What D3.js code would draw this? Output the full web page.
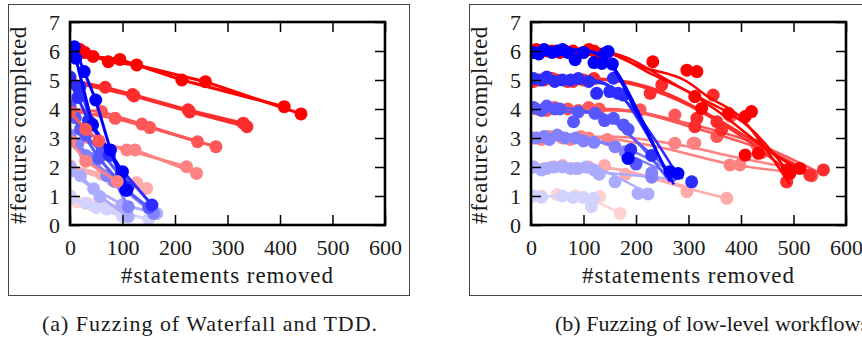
<!DOCTYPE html>
<html>
<head>
<meta charset="utf-8">
<script src="https://cdn.jsdelivr.net/npm/d3@7"></script>
<style>
  body { margin: 0; background: #fff; }
</style>
</head>
<body>
<div id="chart"></div>
<script>
const FONT = '"Liberation Serif"'

// ticks
const xTicks = [0, 100, 200, 300, 400, 500, 600]
const yTicks = [0, 1, 2, 3, 4, 5, 6, 7]

// colour per starting #features (bwr-like)
const redShades = { 6: '#ff0000', 5: '#ff2c2c', 4: '#ff5757', 3: '#ff8282', 2: '#ffabab', 1: '#ffd2d2' }
const blueShades = { 6: '#0000ff', 5: '#2c2cff', 4: '#5757ff', 3: '#8282ff', 2: '#ababff', 1: '#d2d2ff' }

// panel (a): Waterfall runs (red), [statements removed, features completed]
const waterfallRuns = [
  { level: 1, pts: [[0, 1.0], [13, 0.8], [57, 0.8]] },
  { level: 1, pts: [[0, 0.9], [40, 0.7], [90, 0.55]] },
  { level: 2, pts: [[0, 2.05], [60, 1.75], [127, 1.46]] },
  { level: 2, pts: [[0, 1.95], [80, 1.55], [146, 1.26]] },
  { level: 3, pts: [[0, 3.0], [108, 2.59], [222, 2.01]] },
  { level: 3, pts: [[0, 2.95], [124, 2.59], [241, 1.78]] },
  { level: 4, pts: [[0, 4.0], [60, 3.91], [137, 3.48], [243, 2.87]] },
  { level: 4, pts: [[0, 3.95], [86, 3.68], [152, 3.36], [278, 2.7]] },
  { level: 5, pts: [[0, 5.0], [67, 4.75], [119, 4.5], [225, 3.97], [330, 3.51]] },
  { level: 5, pts: [[0, 4.95], [122, 4.45], [228, 3.9], [337, 3.39]] },
  { level: 6, pts: [[0, 6.05], [19, 6.05], [44, 5.81], [95, 5.71], [213, 5.0], [408, 4.08]] },
  { level: 6, pts: [[0, 6.0], [28, 5.95], [73, 5.63], [127, 5.52], [258, 4.94], [440, 3.83]] }
]

// panel (a): TDD runs (blue)
const tddRuns = [
  { level: 1, pts: [[0, 1.0], [30, 0.75], [70, 0.55], [150, 0.2]] },
  { level: 1, pts: [[0, 0.9], [50, 0.6], [100, 0.3]] },
  { level: 2, pts: [[0, 2.0], [20, 1.7], [57, 0.98], [111, 0.29]] },
  { level: 2, pts: [[0, 1.85], [45, 1.25], [100, 0.7], [165, 0.4]] },
  { level: 3, pts: [[0, 3.1], [15, 2.8], [40, 2.3], [85, 1.5], [111, 0.63]] },
  { level: 3, pts: [[0, 2.9], [30, 2.4], [70, 1.7], [159, 0.4]] },
  { level: 4, pts: [[0, 4.1], [10, 3.7], [30, 3.1], [60, 2.5], [100, 1.6]] },
  { level: 4, pts: [[0, 3.9], [20, 3.3], [55, 2.3], [108, 1.2], [150, 0.6]] },
  { level: 5, pts: [[0, 5.1], [19, 4.77], [41, 3.5], [98, 1.78], [110, 1.3]] },
  { level: 5, pts: [[0, 4.9], [15, 4.4], [35, 3.6], [75, 2.4], [156, 0.69]] },
  { level: 6, pts: [[0, 6.1], [8, 6.15], [27, 5.29], [49, 4.31], [77, 2.59], [106, 1.21]] },
  { level: 6, pts: [[0, 5.95], [11, 5.75], [43, 3.45], [100, 1.84], [108, 1.2]] }
]

// short salmon runs drawn over the blue column
const waterfallLate = [
  { level: 4, pts: [[0, 3.9], [30, 3.3], [55, 2.9]] },
  { level: 3, pts: [[0, 2.9], [30, 2.2], [90, 1.5]] }
]

// panel (b): low-level workflow runs, red. fit = smoothed trend, dots = measurements
const lowRedRuns = [
  { level: 1, fit: [[0, 0.95], [80, 1.0], [130, 0.75], [170, 0.4]],
    dots: [[20, 1.0], [50, 1.05], [85, 1.0], [131, 0.98], [170, 0.4]] },
  { level: 2, fit: [[0, 1.95], [150, 1.95], [230, 1.6], [300, 1.25], [373, 0.92]],
    dots: [[5, 2.0], [40, 2.0], [85, 1.95], [140, 2.05], [297, 1.15], [373, 0.92]] },
  { level: 2, fit: [[0, 2.05], [130, 2.0], [250, 1.55], [300, 1.3]],
    dots: [[25, 1.95], [60, 2.05], [110, 2.0], [180, 1.75]] },
  { level: 3, fit: [[0, 2.95], [150, 3.05], [270, 2.8], [400, 2.3], [545, 1.8]],
    dots: [[5, 3.0], [35, 3.05], [75, 2.95], [110, 3.0], [145, 2.95], [274, 2.82], [312, 2.82], [379, 2.07], [398, 2.07], [487, 1.49]] },
  { level: 3, fit: [[0, 3.05], [130, 3.0], [240, 2.7], [380, 2.1], [540, 1.75]],
    dots: [[20, 2.95], [60, 3.0], [95, 3.05], [309, 2.82]] },
  { level: 4, fit: [[0, 4.0], [150, 4.0], [300, 3.5], [430, 2.8], [550, 1.8]],
    dots: [[10, 4.0], [45, 4.05], [90, 3.95], [130, 4.0], [208, 3.97], [274, 3.79], [354, 3.05], [430, 2.76], [535, 1.7]] },
  { level: 4, fit: [[0, 3.95], [160, 3.95], [320, 3.3], [480, 2.3], [540, 1.75]],
    dots: [[30, 3.95], [70, 4.0], [110, 4.05], [380, 3.75], [440, 2.5]] },
  { level: 5, fit: [[0, 4.9], [120, 5.05], [250, 4.6], [350, 3.7], [460, 2.5], [540, 1.75]],
    dots: [[5, 4.95], [25, 5.0], [50, 5.0], [80, 4.95], [120, 5.05], [227, 4.54], [249, 4.83], [347, 4.48], [354, 3.56], [363, 3.28], [531, 1.72], [557, 1.9]] },
  { level: 5, fit: [[0, 5.05], [140, 5.0], [280, 4.3], [380, 3.3], [487, 1.9]],
    dots: [[15, 5.0], [40, 5.05], [70, 4.95], [100, 5.0], [316, 3.68], [312, 3.39], [487, 1.49]] },
  { level: 6, fit: [[0, 6.1], [120, 6.05], [210, 5.45], [297, 4.95], [335, 4.45], [400, 3.7], [436, 2.9], [493, 1.4]],
    dots: [[10, 6.05], [40, 6.0], [80, 6.0], [120, 6.0], [232, 5.63], [297, 5.34], [316, 5.29], [312, 4.43], [376, 3.85], [433, 2.47], [493, 1.78]] },
  { level: 6, fit: [[0, 6.0], [130, 6.0], [230, 5.2], [320, 4.4], [420, 3.3], [500, 1.6]],
    dots: [[5, 5.95], [30, 6.0], [65, 6.0], [100, 5.95], [130, 5.9], [325, 4.02], [420, 3.91], [408, 2.41], [487, 1.9]] },
  { level: 6, fit: [[0, 5.95], [140, 5.95], [260, 5.0], [350, 4.0], [450, 2.6], [520, 1.8]],
    dots: [[20, 6.0], [55, 5.95], [110, 6.05], [408, 3.74], [512, 1.95]] }
]

// panel (b): low-level workflow runs, blue
const lowBlueRuns = [
  { level: 1, fit: [[0, 1.0], [80, 0.95], [120, 0.8]],
    dots: [[5, 1.0], [20, 0.95], [60, 1.0], [80, 0.95], [100, 0.95], [119, 0.92], [115, 0.63]] },
  { level: 2, fit: [[0, 2.0], [120, 1.95], [180, 1.5], [225, 1.05]],
    dots: [[5, 2.0], [30, 1.95], [60, 2.0], [90, 1.95], [120, 1.9], [160, 1.49], [204, 1.09], [223, 1.07]] },
  { level: 2, fit: [[0, 1.9], [140, 1.8], [260, 1.6]],
    dots: [[20, 1.9], [45, 2.0], [75, 1.95], [105, 2.0], [130, 1.75]] },
  { level: 3, fit: [[0, 3.0], [130, 2.85], [200, 2.3], [280, 1.65]],
    dots: [[10, 3.0], [35, 2.95], [65, 3.0], [100, 2.9], [120, 2.85], [179, 2.53], [185, 2.3], [230, 1.8], [265, 1.84]] },
  { level: 3, fit: [[0, 3.1], [150, 2.8], [290, 1.6]],
    dots: [[25, 3.05], [50, 3.1], [85, 3.0], [160, 2.7], [230, 1.65]] },
  { level: 4, fit: [[0, 4.1], [100, 3.95], [170, 3.4], [220, 2.5], [262, 1.55]],
    dots: [[5, 4.05], [30, 4.1], [55, 4.0], [81, 3.56], [122, 3.85], [157, 3.68], [176, 3.45], [200, 2.1], [268, 1.7]] },
  { level: 4, fit: [[0, 3.95], [130, 3.85], [200, 2.9], [280, 1.6]],
    dots: [[20, 3.95], [45, 4.0], [90, 3.9], [140, 3.6], [185, 3.3]] },
  { level: 5, fit: [[0, 5.1], [120, 5.0], [170, 4.5], [225, 3.0], [268, 1.5]],
    dots: [[5, 5.05], [30, 5.1], [60, 5.0], [90, 5.05], [125, 4.54], [157, 5.06], [166, 4.54], [176, 4.48], [190, 2.6], [306, 1.49]] },
  { level: 5, fit: [[0, 4.95], [130, 4.9], [190, 4.1], [245, 2.7], [280, 1.7]],
    dots: [[20, 5.0], [45, 4.95], [75, 5.0], [110, 4.95], [150, 4.6], [230, 2.4]] },
  { level: 6, fit: [[0, 6.0], [90, 6.05], [145, 5.65], [195, 4.1], [240, 2.5], [272, 1.4]],
    dots: [[5, 5.95], [25, 6.05], [50, 6.0], [70, 5.95], [84, 5.7], [100, 5.95], [135, 5.57], [141, 5.92], [147, 5.98], [185, 2.3], [265, 1.84]] },
  { level: 6, fit: [[0, 5.9], [110, 6.0], [157, 5.45], [210, 3.7], [265, 1.5]],
    dots: [[15, 5.9], [40, 5.95], [60, 6.05], [120, 5.6], [155, 5.55], [280, 1.78]] }
]

const W = 862, H = 341
const svg = d3.select('#chart').append('svg').attr('width', W).attr('height', H)

// widen text to the measured width of the original (Computer Modern is wider)
function fitWidth(sel, target) {
  const node = sel.node()
  const n = sel.text().length
  const len = node.getComputedTextLength()
  sel.style('letter-spacing', Math.max(0, (target - len) / n) + 'px')
}

function label(x, y, str, size, anchor) {
  return svg.append('text')
    .attr('x', x).attr('y', y)
    .attr('text-anchor', anchor)
    .attr('font-family', FONT).style('font-family', FONT)
    .style('font-size', size + 'px').attr('fill', '#1a1a1a')
    .text(str)
}

function panel(id, boxX, boxW, plotX) {
  svg.append('rect')
    .attr('x', boxX + 0.5).attr('y', 4.5).attr('width', boxW).attr('height', 291)
    .attr('fill', 'none').attr('stroke', '#444').attr('stroke-width', 1)

  const x = d3.scaleLinear().domain([0, 600]).range([plotX, plotX + 315])
  const y = d3.scaleLinear().domain([0, 7]).range([225, 22])

  svg.append('clipPath').attr('id', 'clip' + id)
    .append('rect').attr('x', plotX).attr('y', 22).attr('width', 315).attr('height', 203)

  const g = svg.append('g').attr('clip-path', `url(#clip${id})`)

  const bottom = svg.append('g').attr('transform', 'translate(0,225)')
    .call(d3.axisBottom(x).tickValues(xTicks).tickFormat(d3.format('d'))
      .tickSizeInner(-10).tickSizeOuter(0).tickPadding(14))
  const left = svg.append('g').attr('transform', `translate(${plotX},0)`)
    .call(d3.axisLeft(y).tickValues(yTicks).tickFormat(d3.format('d'))
      .tickSizeInner(-10).tickSizeOuter(0).tickPadding(10))
  svg.append('g').attr('transform', 'translate(0,22)')
    .call(d3.axisTop(x).tickValues(xTicks).tickSizeInner(-10).tickSizeOuter(0).tickFormat(''))
  svg.append('g').attr('transform', `translate(${plotX + 315},0)`)
    .call(d3.axisRight(y).tickValues(yTicks).tickSizeInner(-10).tickSizeOuter(0).tickFormat(''))

  svg.selectAll('.domain').remove()
  svg.selectAll('.tick line').attr('stroke', '#000').attr('stroke-width', 1.5)
  ;[bottom, left].forEach(a => {
    a.attr('font-family', FONT)
    a.selectAll('text').attr('font-family', FONT).style('font-family', FONT)
      .style('font-size', '22px').attr('fill', '#1a1a1a')
  })

  svg.append('rect')
    .attr('x', plotX).attr('y', 22).attr('width', 315).attr('height', 203)
    .attr('fill', 'none').attr('stroke', '#000').attr('stroke-width', 2.6)

  const xt = label(plotX + 157.5, 283, '#statements removed', 23, 'middle')
  fitWidth(xt, 213)

  const yt = label(0, 0, '#features completed', 23, 'middle')
    .attr('transform', `translate(${plotX - 44},125) rotate(-90)`)
  fitWidth(yt, 198)

  return { g, x, y }
}

function drawRuns(p, runs, shades, lineW, curved) {
  const line = d3.line().x(d => p.x(d[0])).y(d => p.y(d[1]))
    .curve(curved ? d3.curveMonotoneX : d3.curveLinear)
  runs.forEach(run => {
    const c = shades[run.level]
    p.g.append('path')
      .attr('d', line(run.fit || run.pts))
      .attr('fill', 'none').attr('stroke', c).attr('stroke-width', lineW)
    p.g.selectAll(null)
      .data(run.dots || run.pts)
      .join('circle')
      .attr('cx', d => p.x(d[0])).attr('cy', d => p.y(d[1]))
      .attr('r', 6.5).attr('fill', c)
  })
}

const pa = panel('a', 8, 401, 70)
drawRuns(pa, waterfallRuns, redShades, 3, false)
drawRuns(pa, tddRuns, blueShades, 3, false)
drawRuns(pa, waterfallLate, redShades, 3, false)

const pb = panel('b', 469, 420, 531)
drawRuns(pb, lowRedRuns, redShades, 2.5, true)
drawRuns(pb, lowBlueRuns, blueShades, 2.5, true)

const capA = label(42, 331, '(a) Fuzzing of Waterfall and TDD.', 22, 'start')
fitWidth(capA, 336)
// caption (b) runs off the right edge in the original, "workflows" ending at about x = 866
const capB = label(555, 331, '(b) Fuzzing of low-level workflows.', 22, 'start')
fitWidth(capB, 316)
</script>
</body>
</html>
